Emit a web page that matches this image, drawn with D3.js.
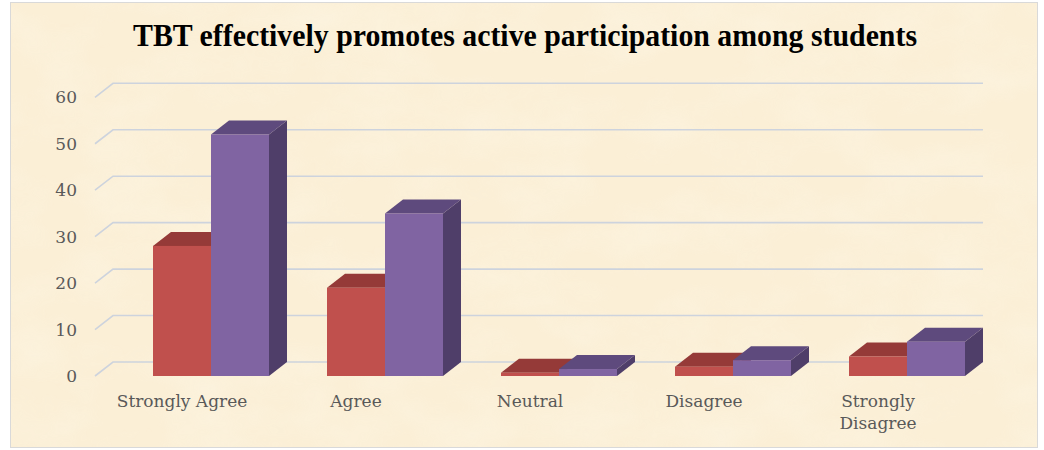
<!DOCTYPE html>
<html>
<head>
<meta charset="utf-8">
<script src="https://cdn.jsdelivr.net/npm/d3@7"></script>
<style>
  body { margin: 0; background: #fff; }
  svg { display: block; }
</style>
</head>
<body>
<div id="chart"></div>
<script>
// data
var categories = ["Strongly Agree", "Agree", "Neutral", "Disagree", "Strongly Disagree"];
var seriesA = [28, 19, 0.7, 2, 4.2];     // red bars
var seriesB = [52, 35, 1.5, 3.4, 7.4];   // purple bars
var yTicks = [0, 10, 20, 30, 40, 50, 60];

var W = 1044, H = 450;
var depth = {dx: 18, dy: -14};

var svg = d3.select("#chart").append("svg")
    .attr("width", W)
    .attr("height", H);

// parchment look
var defs = svg.append("defs");
var f = defs.append("filter").attr("id", "paper")
    .attr("x", 0).attr("y", 0).attr("width", "100%").attr("height", "100%");
f.append("feTurbulence").attr("type", "fractalNoise")
    .attr("baseFrequency", "0.012 0.02").attr("numOctaves", 4).attr("seed", 7);
f.append("feColorMatrix").attr("type", "matrix")
    .attr("values", "0 0 0 0 0.99  0 0 0 0 0.95  0 0 0 0 0.84  0 0 0 -0.9 0.55");

svg.append("rect")
    .attr("x", 10.5).attr("y", 2.5)
    .attr("width", 1027).attr("height", 445)
    .attr("fill", "#fbefd6")
    .attr("stroke", "#d9d9d9");
svg.append("rect")
    .attr("x", 11).attr("y", 3)
    .attr("width", 1026).attr("height", 444)
    .attr("filter", "url(#paper)")
    .attr("opacity", 0.7);

// scales (front plane)
var x = d3.scaleBand().domain(categories).range([95, 965]).padding(0);
var y = d3.scaleLinear().domain([0, 60]).range([376, 97.3]);

// gridlines: floor diagonal + back wall
var grid = svg.append("g");
yTicks.forEach(function(t) {
    var y0 = y(t);
    grid.append("path")
        .attr("d", "M95," + y0 + "L" + (95 + depth.dx) + "," + (y0 + depth.dy) + "H983")
        .attr("fill", "none")
        .attr("stroke", "#cdd3dd")
        .attr("stroke-width", 1.6);
});

// 3D bars
function bar(g, x0, w, v, c) {
    var yt = y(v), yb = y(0);
    var dx = depth.dx, dy = depth.dy;
    // side
    g.append("path")
        .attr("d", "M" + (x0 + w) + "," + yt + "L" + (x0 + w + dx) + "," + (yt + dy) +
            "L" + (x0 + w + dx) + "," + (yb + dy) + "L" + (x0 + w) + "," + yb + "Z")
        .attr("fill", c.side);
    // top
    g.append("path")
        .attr("d", "M" + x0 + "," + yt + "L" + (x0 + dx) + "," + (yt + dy) +
            "L" + (x0 + w + dx) + "," + (yt + dy) + "L" + (x0 + w) + "," + yt + "Z")
        .attr("fill", c.top);
    // front
    g.append("rect")
        .attr("x", x0).attr("y", yt)
        .attr("width", w).attr("height", yb - yt)
        .attr("fill", c.front);
}

var red = {front: "#c0504d", top: "#953a38", side: "#7d302e"};
var purple = {front: "#8064a2", top: "#5e4a7d", side: "#4f3e69"};

var bars = svg.append("g");
categories.forEach(function(cat, i) {
    var bw = x.bandwidth() / 3;
    var x0 = x(cat);
    bar(bars, x0 + bw, bw, seriesA[i], red);
    bar(bars, x0 + 2 * bw, bw, seriesB[i], purple);
});

// y axis
var yAxis = svg.append("g")
    .attr("transform", "translate(95,0)")
    .call(d3.axisLeft(y).tickValues(yTicks).tickSize(0).tickPadding(18));
yAxis.select(".domain").remove();
yAxis.selectAll("text")
    .attr("fill", "#595959")
    .style("font-family", "'DejaVu Serif', serif")
    .style("font-size", "17px");

// x axis
var xAxis = svg.append("g")
    .attr("transform", "translate(0,376)")
    .call(d3.axisBottom(x).tickSize(0).tickPadding(0));
xAxis.select(".domain").remove();
xAxis.selectAll("text").remove();
xAxis.selectAll(".tick").each(function(d) {
    var words = d === "Strongly Disagree" ? ["Strongly", "Disagree"] : [d];
    var t = d3.select(this).append("text")
        .attr("fill", "#595959")
        .attr("text-anchor", "middle")
        .style("font-family", "'DejaVu Serif', serif")
        .style("font-size", "17px");
    words.forEach(function(wd, k) {
        t.append("tspan").attr("x", 0).attr("y", 31 + k * 22).text(wd);
    });
});

// title
svg.append("text")
    .attr("x", 525).attr("y", 46)
    .attr("text-anchor", "middle")
    .attr("textLength", 784)
    .attr("lengthAdjust", "spacingAndGlyphs")
    .style("font-family", "'Liberation Serif', serif")
    .style("font-weight", "bold")
    .style("font-size", "31px")
    .attr("fill", "#000")
    .text("TBT effectively promotes active participation among students");
</script>
</body>
</html>
